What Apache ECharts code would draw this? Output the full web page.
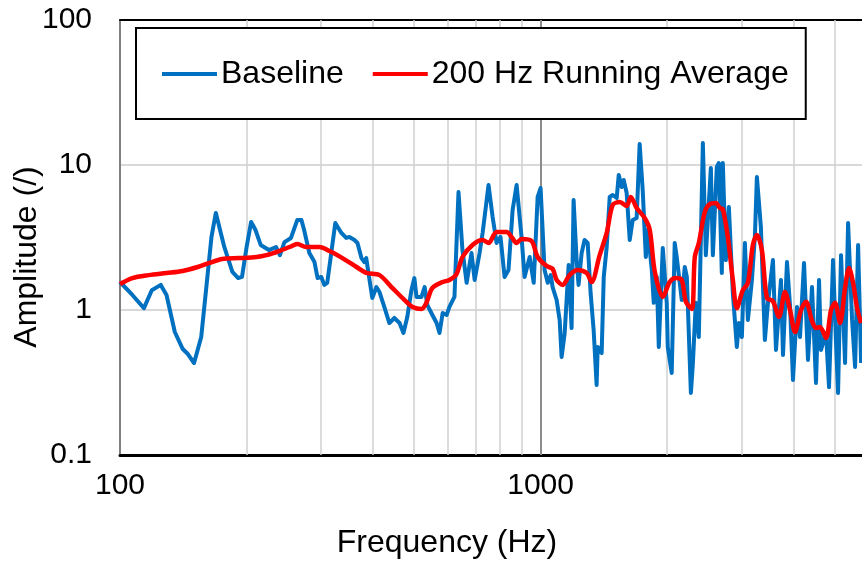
<!DOCTYPE html>
<html>
<head>
<meta charset="utf-8">
<script src="https://cdn.jsdelivr.net/npm/echarts@6/dist/echarts.min.js"></script>
<style>
  html, body { margin: 0; padding: 0; background: #fff; }
  #chart { width: 862px; height: 561px; }
</style>
</head>
<body>
<div id="chart"></div>
<script>
// Baseline spectrum (Hz, amplitude)
const baselineFreq = [100,107,114,119,125,129,135,141,145,150,156,165,169,177,185,191,195,200,205,210,216,226,235,240,246,255,264,270,274,282,290,295,301,306,311,325,336,345,351,361,367,375,381,385,392,398,407,414,425,437,449,462,472,482,493,501,507,521,530,538,553,566,575,585,598,607,624,638,652,667,685,697,716,728,752,769,786,803,821,839,858,877,901,916,942,963,984,1000,1022,1040,1057,1068,1092,1110,1122,1141,1153,1166,1185,1198,1218,1231,1252,1272,1294,1315,1337,1359,1367,1397,1413,1436,1460,1484,1517,1534,1559,1576,1602,1629,1656,1692,1720,1749,1779,1798,1838,1858,1889,1910,1952,1995,2006,2050,2084,2107,2166,2202,2227,2277,2302,2339,2378,2431,2471,2540,2568,2624,2653,2697,2712,2757,2803,2865,2928,2961,3010,3060,3111,3180,3232,3268,3340,3414,3472,3568,3628,3728,3770,3853,3917,3982,4070,4138,4230,4323,4419,4517,4592,4642,4771,4850,4958,5040,5096,5180,5295,5384,5503,5594,5687,5782];
const baselineAmp = [1.56,1.27,1.03,1.37,1.49,1.27,0.705,0.538,0.497,0.431,0.651,3.19,4.67,2.72,1.83,1.66,1.69,2.72,4.05,3.56,2.81,2.59,2.72,2.39,2.94,3.14,4.18,4.18,3.56,2.47,2.14,1.66,1.69,1.49,1.54,3.98,3.40,3.14,3.19,3.04,2.90,2.28,2.14,2.28,1.61,1.21,1.44,1.33,1.05,0.813,0.881,0.813,0.694,0.895,1.37,1.66,1.23,1.23,1.44,1.08,0.924,0.813,0.694,0.953,0.924,1.05,1.23,6.51,2.59,1.54,2.47,1.61,2.47,3.40,7.28,4.38,2.90,3.19,1.69,1.89,4.89,7.28,3.19,1.69,2.32,1.54,6.02,6.94,1.89,1.54,1.74,1.44,1.17,0.854,0.474,0.694,1.17,2.04,0.751,5.74,2.21,1.49,2.47,3.04,2.90,1.31,0.728,0.304,0.556,0.505,1.69,2.72,6.02,6.21,5.92,8.53,7.05,7.88,6.41,3.04,4.18,4.31,13.95,6.72,2.32,3.56,1.89,1.12,1.69,0.556,2.68,1.12,0.556,0.368,2.90,2.32,1.17,1.98,1.69,0.268,0.431,1.12,0.651,14.18,2.39,9.54,2.39,9.69,10.32,1.80,10.32,2.21,5.13,1.31,0.556,0.813,0.651,2.90,0.854,1.61,3.19,8.27,3.74,0.621,1.12,2.21,0.53,1.61,0.49,2.14,1.08,0.329,1.05,0.651,2.11,0.452,1.44,0.314,1.61,0.53,0.694,0.294,2.21,0.592,0.268,2.39,0.431,3.98,0.854,0.405,2.81,0.431];

// 200 Hz running average (Hz, amplitude)
const averageFreq = [100,107,117,129,141,153,163,175,192,211,223,239,253,264,277,298,315,338,365,385,414,442,475,496,521,535,553,585,607,631,652,689,728,752,786,830,853,877,901,952,984,1034,1068,1092,1128,1172,1225,1287,1322,1382,1436,1484,1542,1602,1638,1692,1768,1818,1869,1952,2028,2095,2166,2215,2289,2326,2378,2457,2526,2610,2668,2712,2787,2865,2928,3026,3111,3197,3268,3359,3453,3568,3688,3811,3917,4026,4161,4276,4419,4517,4617,4771,4904,5013,5152,5295,5413,5533,5656,5782];
const averageAmp = [1.51,1.66,1.74,1.80,1.86,1.98,2.11,2.25,2.28,2.32,2.39,2.55,2.72,2.85,2.72,2.72,2.55,2.28,1.98,1.80,1.74,1.44,1.17,1.05,1.016,1.12,1.42,1.56,1.61,1.77,2.32,2.81,3.04,2.90,3.45,3.45,3.19,2.90,3.09,2.99,2.32,2.01,1.92,1.61,1.49,1.74,1.89,1.80,1.56,2.39,3.40,5.30,5.56,5.21,6.02,5.05,4.31,3.56,1.83,1.23,1.56,1.66,1.61,1.14,1.016,2.32,2.90,4.74,5.38,5.47,5.05,4.97,3.19,1.61,1.03,1.37,1.54,2.81,3.29,2.59,1.21,1.15,0.895,1.33,1.0,0.705,1.0,1.14,0.84,0.751,0.763,0.641,1.0,1.12,0.813,1.42,1.95,1.54,1.03,0.813];

// Axis ranges and gridline positions
const freqMin = 100, freqMax = 5810;
const ampMin = 0.1, ampMax = 100;
const minorFreqLines = [200,300,400,500,600,700,800,900,2000,3000,4000,5000];
const majorFreqLines = [1000];

const seriesNames = ['Baseline', '200 Hz Running Average'];
const FONT = '"Liberation Sans", Arial, sans-serif';

const zip = (xs, ys) => xs.map((x, i) => [x, ys[i]]);
const plain = v => String(Math.round(v * 1000) / 1000);

const chart = echarts.init(document.getElementById('chart'), null, { renderer: 'canvas' });

chart.setOption({
  animation: false,
  backgroundColor: '#ffffff',
  textStyle: { fontFamily: FONT },
  grid: { left: 120, top: 20, right: 0, bottom: 106, containLabel: false },
  legend: {
    data: seriesNames,
    left: 136, top: 28,
    padding: [30, 17, 29, 26],
    itemGap: 29,
    itemWidth: 55, itemHeight: 4,
    icon: 'rect',
    backgroundColor: '#ffffff',
    borderColor: '#000000', borderWidth: 2,
    textStyle: { fontFamily: FONT, fontSize: 32, color: '#000000', padding: [0, 0, 0, -1] }
  },
  xAxis: [{
    type: 'log', logBase: 10, min: freqMin, max: freqMax,
    axisLine: { show: true, lineStyle: { color: '#000000', width: 3 } },
    axisTick: { show: false },
    splitLine: { show: false },
    minorSplitLine: { show: false },
    axisLabel: { show: true, fontSize: 30, color: '#000000', margin: 16, fontFamily: FONT, showMaxLabel: false, formatter: plain }
  }, {
    type: 'log', logBase: 10, min: freqMin, max: freqMax, position: 'top',
    axisLine: { show: true, lineStyle: { color: '#000000', width: 2 } },
    axisTick: { show: false }, axisLabel: { show: false }, splitLine: { show: false }
  }],
  yAxis: {
    type: 'log', logBase: 10, min: ampMin, max: ampMax,
    axisLine: { show: true, lineStyle: { color: '#808080', width: 2 } },
    axisTick: { show: false },
    splitLine: { show: true, lineStyle: { color: '#d9d9d9', width: 2 } },
    axisLabel: { fontSize: 30, color: '#000000', margin: 28, fontFamily: FONT, formatter: plain }
  },
  graphic: [
    { type: 'text', x: 447, y: 543, style: { text: 'Frequency (Hz)', font: '32px ' + FONT, fill: '#000000', align: 'center', verticalAlign: 'middle' } },
    { type: 'text', x: 27, y: 257, rotation: Math.PI / 2, style: { text: 'Amplitude (/)', font: '32px ' + FONT, fill: '#000000', align: 'center', verticalAlign: 'middle' } }
  ],
  series: [
    {
      name: seriesNames[0], type: 'line', data: zip(baselineFreq, baselineAmp),
      showSymbol: false, symbol: 'none', clip: true, z: 3,
      lineStyle: { color: '#0070C0', width: 4, join: 'round' },
      itemStyle: { color: '#0070C0' },
      markLine: {
        silent: true, symbol: 'none', label: { show: false }, z: 1,
        data: minorFreqLines.map(v => ({ xAxis: v, lineStyle: { color: '#d0d0d0', width: 1.5, type: 'solid' } }))
          .concat(majorFreqLines.map(v => ({ xAxis: v, lineStyle: { color: '#8c8c8c', width: 2, type: 'solid' } })))
      }
    },
    {
      name: seriesNames[1], type: 'line', data: zip(averageFreq, averageAmp),
      showSymbol: false, symbol: 'none', clip: true, smooth: 0.3, z: 4,
      lineStyle: { color: '#FF0000', width: 4.5, join: 'round' },
      itemStyle: { color: '#FF0000' }
    }
  ]
});
</script>
</body>
</html>
